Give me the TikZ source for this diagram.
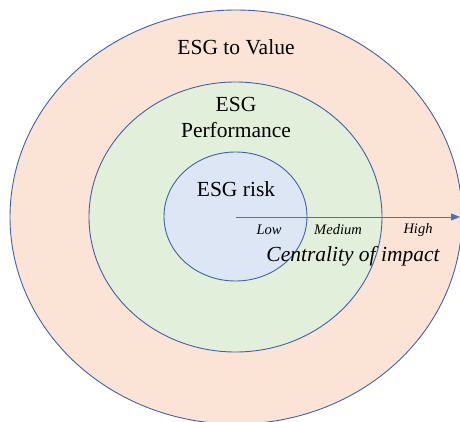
\documentclass[tikz,border=0pt]{standalone}
\usepackage{fontspec}
\setmainfont{Liberation Serif}
\usetikzlibrary{shapes.geometric,arrows.meta}
\definecolor{ringline}{HTML}{3E63A8}
\definecolor{arrowblue}{HTML}{4472C4}
\definecolor{peach}{HTML}{FBE3D6}
\definecolor{lgreen}{HTML}{E2EFDA}
\definecolor{lblue}{HTML}{DCE6F4}
\tikzset{
  ring/.style={ellipse, draw=ringline, line width=0.9pt, inner sep=0pt},
  title/.style={font=\fontsize{21.5}{26}\selectfont, align=center, inner sep=0pt},
  level/.style={font=\fontsize{14.5}{16}\selectfont\itshape, inner sep=0pt},
}
\begin{document}
\begin{tikzpicture}[x=1pt,y=-1pt]
\useasboundingbox (0,0) rectangle (460,422);
\clip (0,0) rectangle (460,422);
\node[ring, fill=peach, minimum width=452pt, minimum height=414pt] (outer) at (236,217) {};
\node[ring, fill=lgreen, minimum width=293pt, minimum height=270pt] (middle) at (235.5,217) {};
\node[ring, fill=lblue, minimum width=143pt, minimum height=129pt] (inner) at (235.5,216.5) {};
\coordinate (start) at (236,217);
\coordinate (tip) at (460,217);
\draw[arrowblue, line width=1pt, -{Triangle[length=9pt,width=7pt]}] (start) -- (tip);
\node[title] (value) at (236,47) {ESG to Value};
\node[title] (perf) at (236,117) {ESG\\Performance};
\node[title] (risk) at (236,189) {ESG risk};
\node[level] (low) at (269,230) {Low};
\node[level] (medium) at (338,230) {Medium};
\node[level] (high) at (418,230) {High};
\node[title, font=\fontsize{21.5}{26}\selectfont\itshape] (central) at (353,256) {Centrality of impact};
\end{tikzpicture}
\end{document}
